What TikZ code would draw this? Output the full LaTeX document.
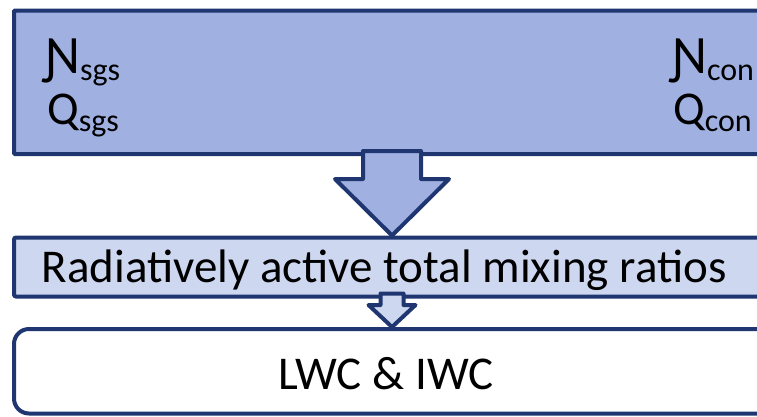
\documentclass[tikz,border=0pt]{standalone}
\usepackage{fontspec}
\setmainfont{Carlito}
\usetikzlibrary{calc}
\definecolor{navy}{HTML}{1F3670}
\definecolor{topfill}{HTML}{A0B1E1}
\definecolor{midfill}{HTML}{CDD7F0}
% main size, the hooked N and lowered subscript
\newcommand\bigtxt[1]{{\fontsize{47}{47}\selectfont #1}}
\newcommand\hookN{{\fontsize{54}{54}\selectfont Ɲ}}
\newcommand\subtxt[1]{\raisebox{-7pt}{\fontsize{32}{32}\selectfont #1}}
% block arrow from (#1) down to (#2): shaft half-width #3, head half-width #4, shaft length #5, fill #6
\newcommand\blockarrow[6]{%
  \path let \p1=(#1), \p2=(#2) in
    [fill=#6] ({\x1-#3},{\y1+3pt}) -- ({\x1-#3},{\y1-#5}) -- ({\x1-#4},{\y1-#5})
      -- ({\x2},{\y2+2pt}) -- ({\x1+#4},{\y1-#5}) -- ({\x1+#3},{\y1-#5})
      -- ({\x1+#3},{\y1+3pt}) -- cycle
    [draw=navy, line width=4pt, line join=round]
    ({\x1-#3},{\y1}) -- ({\x1-#3},{\y1-#5}) -- ({\x1-#4},{\y1-#5})
      -- ({\x2},{\y2+2pt}) -- ({\x1+#4},{\y1-#5}) -- ({\x1+#3},{\y1-#5})
      -- ({\x1+#3},{\y1});
}
\begin{document}
\begin{tikzpicture}[x=1pt,y=-1pt,
  panel/.style={draw=navy, line width=4pt, rectangle, outer sep=0pt, inner sep=0pt, anchor=north west},
  label/.style={inner sep=0pt, anchor=base west, text=black}]
\useasboundingbox (0,0) rectangle (757,416);

% boxes (they run on past the right edge)
\node[panel, fill=topfill, rounded corners=1pt, minimum width=770pt, minimum height=143.5pt] (inputs) at (14,10.5) {};
\node[panel, fill=midfill, rounded corners=2pt, minimum width=770pt, minimum height=59pt] (ratios) at (14,237.5) {};
\node[panel, fill=white, rounded corners=15pt, minimum width=770pt, minimum height=84.5pt] (water) at (14,329) {};

% quantities in the top box
\node[label] (nsgs) at (45,73) {\hookN\subtxt{sgs}};
\node[label] (qsgs) at (47,124) {\bigtxt{Q}\subtxt{sgs}};
\node[label] (ncon) at (672,73) {\hookN\subtxt{con}};
\node[label] (qcon) at (673,124) {\bigtxt{Q}\subtxt{con}};

% texts of the lower boxes
\node[inner sep=0pt, anchor=base] (ratiotxt) at (384,282) {\bigtxt{Radiatively active total mixing ratios}};
\node[inner sep=0pt, anchor=base] (watertxt) at (386,389) {\bigtxt{LWC \& IWC}};

% arrows between the boxes
\coordinate (axis) at (392,0);
\blockarrow{inputs.south -| axis}{ratios.north -| axis}{29pt}{57pt}{25pt}{topfill}
\blockarrow{ratios.south -| axis}{water.north -| axis}{11.5pt}{23.5pt}{8.5pt}{midfill}
\end{tikzpicture}
\end{document}
